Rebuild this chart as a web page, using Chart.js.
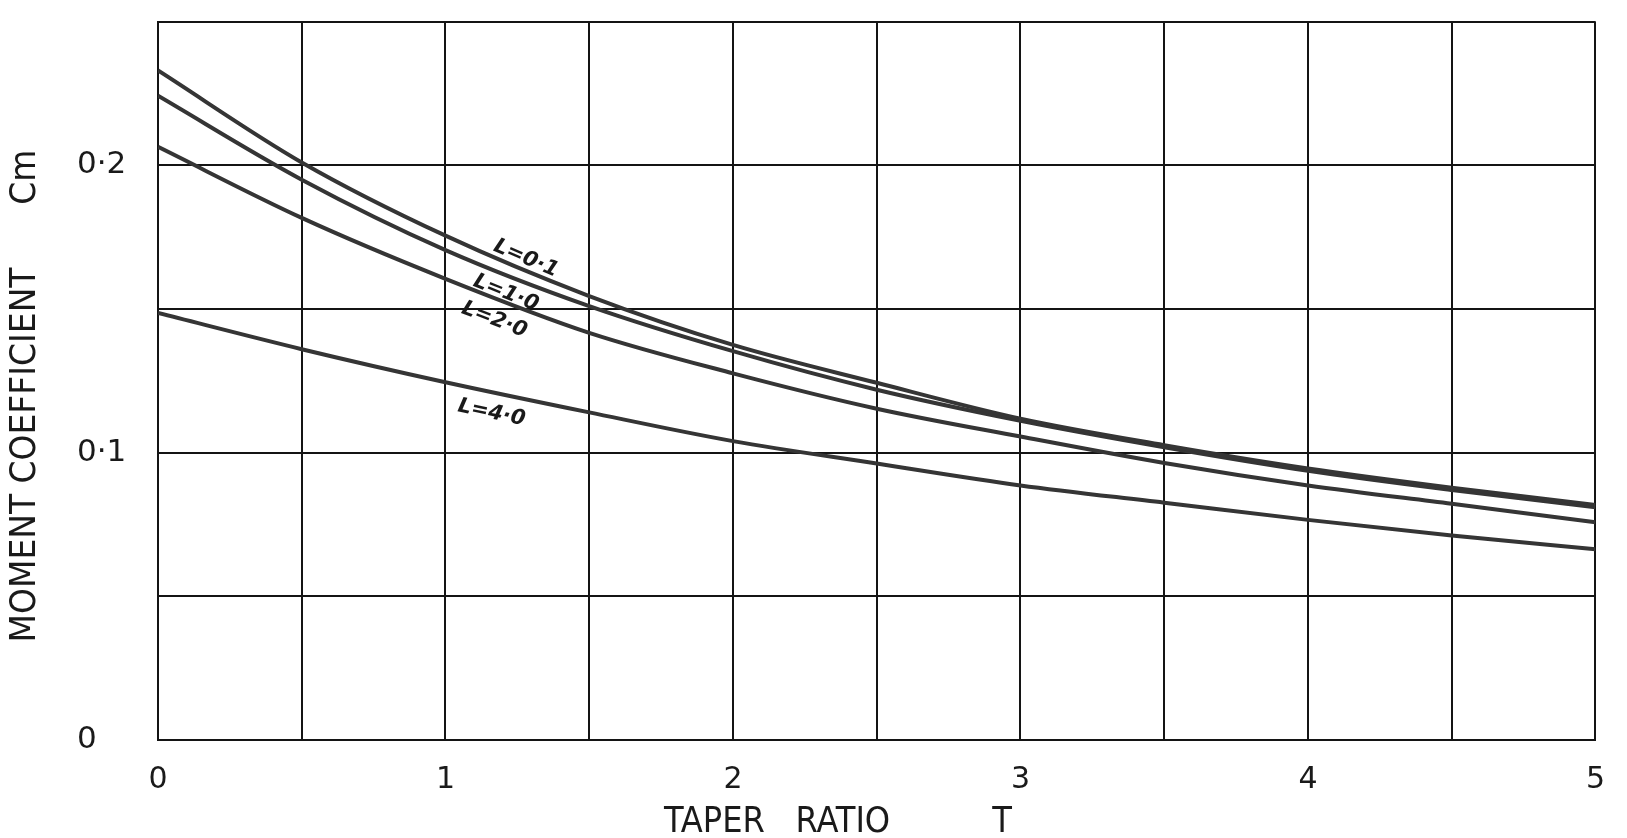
<!DOCTYPE html>
<html>
<head>
<meta charset="utf-8">
<script src="https://cdn.jsdelivr.net/npm/chart.js@4.4.1/dist/chart.umd.min.js"></script>
<style>
  html, body { margin: 0; padding: 0; background: #ffffff; }
  #wrap { width: 1627px; height: 838px; }
</style>
</head>
<body>
<div id="wrap"><canvas id="chart" width="1627" height="838"></canvas></div>
<script>
// taper ratio T
const taper = [0, 0.5, 1, 1.5, 2, 2.5, 3, 3.5, 4, 4.5, 5];

// moment coefficient Cm, one series per L
const cmL01 = [0.233, 0.201, 0.1755, 0.1545, 0.1375, 0.1243, 0.1118, 0.1026, 0.0945, 0.0878, 0.0818];
const cmL10 = [0.2242, 0.195, 0.1705, 0.151, 0.1353, 0.1219, 0.1111, 0.1019, 0.0937, 0.087, 0.081];
const cmL20 = [0.2064, 0.1817, 0.1605, 0.1417, 0.1276, 0.1153, 0.1056, 0.0964, 0.0886, 0.0822, 0.0758];
const cmL40 = [0.1486, 0.136, 0.1245, 0.114, 0.104, 0.0962, 0.0886, 0.0826, 0.0766, 0.0712, 0.0664];

const seriesNames = ["L=0·1", "L=1·0", "L=2·0", "L=4·0"];

const xTickLabels = ["0", "1", "2", "3", "4", "5"];
const yTickLabels = { "0": "0", "0.1": "0·1", "0.2": "0·2" };

// where the hand lettered curve labels sit, in data units (T, Cm, angle)
const curveLabelT = [1.28, 1.21, 1.17, 1.16];
const curveLabelCm = [0.1675, 0.1555, 0.1462, 0.1138];
const curveLabelAngle = [23, 22, 21, 12];

const lineColor = "#353535";
const gridColor = "#141414";
const font = "'DejaVu Sans', sans-serif";
const titleFont = "'DejaVu Sans Condensed', 'DejaVu Sans', sans-serif";

function toPoints(ys) {
  return taper.map((t, i) => ({ x: t, y: ys[i] }));
}

const datasets = [cmL01, cmL10, cmL20, cmL40].map((ys, i) => ({
  label: seriesNames[i],
  data: toPoints(ys),
  borderColor: lineColor,
  borderWidth: 4,
  pointRadius: 0,
  fill: false,
  cubicInterpolationMode: "monotone",
}));

// draw text squeezed/stretched to a given width (the original lettering is condensed)
function fitText(ctx, text, cx, cy, width, angle) {
  const w = ctx.measureText(text).width;
  ctx.save();
  ctx.translate(cx, cy);
  ctx.rotate(angle);
  ctx.scale(width / w, 1);
  ctx.fillText(text, 0, 0);
  ctx.restore();
}

const labelsPlugin = {
  id: "labels",
  afterDraw(chart) {
    const { ctx, scales } = chart;
    ctx.save();
    ctx.fillStyle = "#1a1a1a";
    ctx.textAlign = "center";
    ctx.textBaseline = "middle";

    // axis titles
    ctx.font = "36px " + titleFont;
    fitText(ctx, "TAPER   RATIO          T", 838, 823, 348, 0);
    fitText(ctx, "MOMENT COEFFICIENT      Cm", 26, 396, 493, -Math.PI / 2);

    // curve labels
    ctx.font = "italic bold 21px " + font;
    seriesNames.forEach((name, i) => {
      const x = scales.x.getPixelForValue(curveLabelT[i]);
      const y = scales.y.getPixelForValue(curveLabelCm[i]);
      ctx.save();
      ctx.translate(x, y);
      ctx.rotate((curveLabelAngle[i] * Math.PI) / 180);
      ctx.fillText(name, 0, 0);
      ctx.restore();
    });
    ctx.restore();
  },
};

new Chart(document.getElementById("chart").getContext("2d"), {
  type: "line",
  data: { datasets },
  options: {
    responsive: false,
    animation: false,
    layout: { padding: { left: 77, top: 18, right: 17, bottom: 0 } },
    plugins: {
      legend: { display: false },
      tooltip: { enabled: false },
    },
    scales: {
      x: {
        type: "linear",
        min: 0,
        max: 5,
        afterFit: (scale) => { scale.height = 98; },
        grid: { color: gridColor, lineWidth: 2, drawTicks: false },
        border: { color: gridColor, width: 2 },
        ticks: {
          stepSize: 0.5,
          autoSkip: false,
          maxRotation: 0,
          padding: 22,
          color: "#1a1a1a",
          font: { family: font, size: 30 },
          callback: (v) => (Number.isInteger(v) ? xTickLabels[v] : ""),
        },
      },
      y: {
        type: "linear",
        min: 0,
        max: 0.25,
        afterFit: (scale) => { scale.width = 81; },
        grid: { color: gridColor, lineWidth: 2, drawTicks: false },
        border: { color: gridColor, width: 2 },
        ticks: {
          stepSize: 0.05,
          crossAlign: "far",
          color: "#1a1a1a",
          font: { family: font, size: 31 },
          callback: (v) => yTickLabels[String(Math.round(v * 100) / 100)] || "",
        },
      },
    },
  },
  plugins: [labelsPlugin],
});
</script>
</body>
</html>
